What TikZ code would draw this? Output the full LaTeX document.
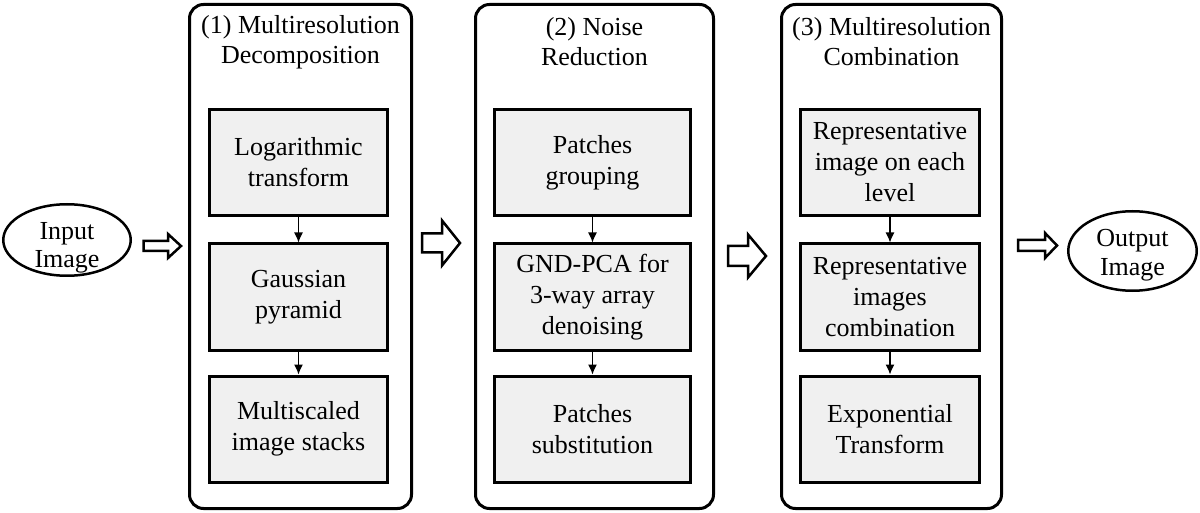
\documentclass[tikz,border=0pt]{standalone}
\usepackage{fontspec}
\setmainfont{Liberation Serif}
\usetikzlibrary{arrows.meta,shapes.geometric}
\definecolor{boxfill}{RGB}{240,240,240}
\tikzset{
  panel/.style={draw, line width=3pt, rounded corners=14pt, inner sep=0pt},
  stepbox/.style={draw, line width=3pt, fill=boxfill, align=center, inner sep=0pt, minimum height=106pt, font=\fontsize{26}{31}\selectfont},
  io/.style={draw, ellipse, line width=2.5pt, inner sep=0pt},
  iotext/.style={align=center, inner sep=0pt, font=\fontsize{26}{28.5}\selectfont},
  ttl/.style={align=center, inner sep=0pt},
  flow/.style={line width=1.2pt, -{Latex[length=10pt,width=9pt]}},
  hollow/.style={draw, line width=2.5pt, line join=miter, fill=white},
}
\begin{document}
\begin{tikzpicture}[x=1pt,y=-1pt,font=\fontsize{26}{30}\selectfont]
\useasboundingbox (0,0) rectangle (1200,513);
% panels
\node[panel, minimum width=222pt, minimum height=504pt] (p1) at (300.5,256.5) {};
\node[panel, minimum width=238pt, minimum height=504pt] (p2) at (594.5,256.5) {};
\node[panel, minimum width=220pt, minimum height=504pt] (p3) at (891.5,256.5) {};
% titles
\node[ttl] (t1) at (300.5,42) {(1) Multiresolution\\Decomposition};
\node[ttl] (t2) at (594.5,42) {(2) Noise\\Reduction};
\node[ttl] (t3) at (891.5,42) {(3) Multiresolution\\Combination};
% panel 1 boxes
\node[stepbox, minimum width=178pt] (a1) at (298.5,162.5) {Logarithmic\\transform};
\node[stepbox, minimum width=178pt] (a2) at (298.5,297) {Gaussian\\pyramid};
\node[stepbox, minimum width=178pt] (a3) at (298.5,429) {Multiscaled\\image stacks};
% panel 2 boxes
\node[stepbox, minimum width=196pt] (b1) at (592.5,162.5) {Patches\\grouping};
\node[stepbox, minimum width=196pt] (b2) at (592.5,297) {GND-PCA for\\3-way array\\denoising};
\node[stepbox, minimum width=196pt] (b3) at (592.5,429) {Patches\\substitution};
% panel 3 boxes
\node[stepbox, minimum width=179pt] (c1) at (890,162.5) {Representative\\image on each\\level};
\node[stepbox, minimum width=179pt] (c2) at (890,297) {Representative\\images\\combination};
\node[stepbox, minimum width=179pt] (c3) at (890,429) {Exponential\\Transform};
% small arrows
\draw[flow] (a1) -- (a2);
\draw[flow] (a2) -- (a3);
\draw[flow] (b1) -- (b2);
\draw[flow] (b2) -- (b3);
\draw[flow] (c1) -- (c2);
\draw[flow] (c2) -- (c3);
% input / output
\node[io, minimum width=127.5pt, minimum height=71.5pt] (in) at (67,240) {};
\node[iotext] (inl) at (67,248) {Input\\Image};
\node[io, minimum width=128.5pt, minimum height=79.5pt] (out) at (1132.5,251) {};
\node[iotext] (outl) at (1132.5,255) {Output\\Image};
% hollow arrows
\draw[hollow] (143.5,241) -- (168,241) -- (168,234) -- (181,246) -- (168,258) -- (168,251) -- (143.5,251) -- cycle;
\draw[hollow] (422,233.5) -- (442,233.5) -- (442,220.5) -- (460,243) -- (442,265.5) -- (442,252.5) -- (422,252.5) -- cycle;
\draw[hollow] (728,246) -- (748,246) -- (748,234.5) -- (766,256) -- (748,277.5) -- (748,266) -- (728,266) -- cycle;
\draw[hollow] (1018,240) -- (1045,240) -- (1045,233) -- (1057,245.5) -- (1045,258) -- (1045,251) -- (1018,251) -- cycle;
\end{tikzpicture}
\end{document}
